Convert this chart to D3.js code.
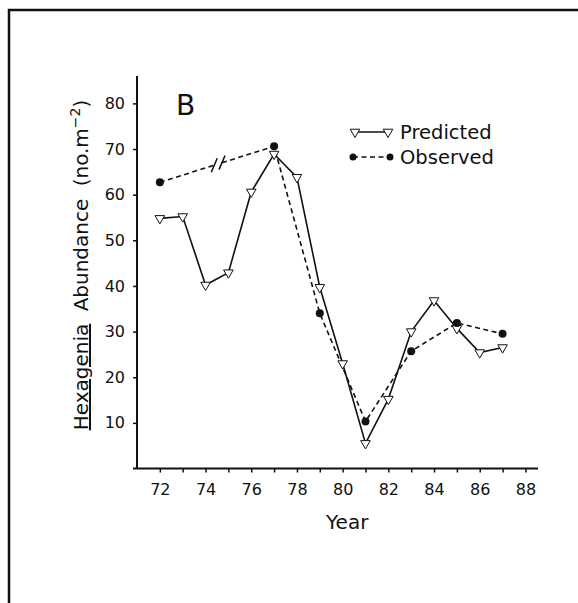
<!DOCTYPE html>
<html lang="en">
<head>
  <meta charset="UTF-8">
  <title>Hexagenia Abundance</title>
  <script src="https://d3js.org/d3.v7.min.js"></script>
  <style>
    body { margin: 0; background: #fff; }
    svg text { font-family: "DejaVu Sans", sans-serif; fill: #111; }
  </style>
</head>
<body>
  <div id="chart"></div>
  <script>
    // Data (panel B)
    const predYears = [72, 73, 74, 75, 76, 77, 78, 79, 80, 81, 82, 83, 84, 85, 86, 87];
    const predicted = [54.8, 55.2, 40.2, 42.9, 60.6, 68.9, 63.8, 39.7, 23.0, 5.5, 15.2, 30.0, 36.8, 30.7, 25.4, 26.5];
    const obsYears = [72, 77, 79, 81, 83, 85, 87];
    const observed = [62.7, 70.6, 34.0, 10.3, 25.7, 31.9, 29.5];
    const xTicks = d3.range(72, 89);
    const yTicks = [10, 20, 30, 40, 50, 60, 70, 80];
    const breakYear = 74.55;

    const W = 578, H = 603;
    const svg = d3.select("#chart").append("svg")
      .attr("width", W).attr("height", H);

    // frame around the panel
    svg.append("path")
      .attr("d", `M9,${H + 5}V10H${W + 5}`)
      .attr("fill", "none").attr("stroke", "#111").attr("stroke-width", 2.5);

    const x = d3.scaleLinear().domain([71, 88.55]).range([137, 538]);
    const y = d3.scaleLinear().domain([0, 86]).range([468.5, 76]);

    // axes
    const xAxis = d3.axisBottom(x).tickValues(xTicks).tickSize(4).tickPadding(11)
      .tickFormat(d => d % 2 === 0 ? d : "");
    const gx = svg.append("g").attr("transform", `translate(0,${y(0)})`).call(xAxis);
    gx.select(".domain").remove();
    gx.selectAll("line").attr("stroke", "#111").attr("stroke-width", 1.5);
    gx.selectAll("text").style("font-size", "16px");

    const yAxis = d3.axisLeft(y).tickValues(yTicks).tickSize(4).tickPadding(8);
    const gy = svg.append("g").attr("transform", `translate(${x(71)},0)`).call(yAxis);
    gy.select(".domain").remove();
    gy.selectAll("line").attr("stroke", "#111").attr("stroke-width", 1.5);
    gy.selectAll("text").style("font-size", "16px");

    svg.append("line")
      .attr("x1", 133).attr("x2", x.range()[1])
      .attr("y1", y(0)).attr("y2", y(0))
      .attr("stroke", "#111").attr("stroke-width", 2);
    svg.append("line")
      .attr("x1", x(71)).attr("x2", x(71))
      .attr("y1", y.range()[1]).attr("y2", y(0))
      .attr("stroke", "#111").attr("stroke-width", 2);

    // axis titles
    svg.append("text")
      .attr("x", x(80.2)).attr("y", 529)
      .attr("text-anchor", "middle")
      .style("font-size", "20px")
      .text("Year");

    const yl = svg.append("text")
      .attr("transform", "translate(88,265) rotate(-90)")
      .attr("text-anchor", "middle")
      .style("font-size", "20px")
      .attr("word-spacing", "6px");
    yl.append("tspan").attr("text-decoration", "underline").text("Hexagenia");
    yl.append("tspan").text(" Abundance (no.m");
    yl.append("tspan").attr("dy", -8).style("font-size", "14px").text("−2");
    yl.append("tspan").attr("dy", 8).text(")");

    svg.append("text")
      .attr("x", 176).attr("y", 115)
      .style("font-size", "28px")
      .text("B");

    // lines
    const line = d3.line().x(d => x(d[0])).y(d => y(d[1]));
    const predPts = predYears.map((d, i) => [d, predicted[i]]);
    const obsPts = obsYears.map((d, i) => [d, observed[i]]);

    // observed dashed line, broken between 72 and 77
    const lerp = t => observed[0] + (observed[1] - observed[0]) * (t - obsYears[0]) / (obsYears[1] - obsYears[0]);
    const gap = 0.17;
    const by = lerp(breakYear);
    const dashed = { fill: "none", stroke: "#111", "stroke-width": 1.6, "stroke-dasharray": "5,3.5" };
    const segs = [[obsPts[0], [breakYear - gap, lerp(breakYear - gap)]],
                  [[breakYear + gap, lerp(breakYear + gap)]].concat(obsPts.slice(1))];
    segs.forEach(s => {
      const p = svg.append("path").attr("d", line(s));
      Object.entries(dashed).forEach(([k, v]) => p.attr(k, v));
    });
    [-gap, gap].forEach(o => {
      const cx = x(breakYear + o), cy = y(by + (o > 0 ? 0.3 : -0.3));
      svg.append("line")
        .attr("x1", cx - 3).attr("y1", cy + 7)
        .attr("x2", cx + 3).attr("y2", cy - 7)
        .attr("stroke", "#111").attr("stroke-width", 1.5);
    });

    svg.append("path").attr("d", line(predPts))
      .attr("fill", "none").attr("stroke", "#111").attr("stroke-width", 1.6);

    // markers
    const tri = d3.symbol().type(d3.symbolTriangle).size(40);
    svg.append("g").selectAll("path").data(predPts).join("path")
      .attr("d", tri)
      .attr("transform", d => `translate(${x(d[0])},${y(d[1])}) rotate(180)`)
      .attr("fill", "#fff").attr("stroke", "#111").attr("stroke-width", 1);

    svg.append("g").selectAll("circle").data(obsPts).join("circle")
      .attr("cx", d => x(d[0])).attr("cy", d => y(d[1]))
      .attr("r", 4).attr("fill", "#111");

    // legend
    const lg = svg.append("g");
    lg.append("line").attr("x1", 355).attr("x2", 388).attr("y1", 132).attr("y2", 132)
      .attr("stroke", "#111").attr("stroke-width", 1.6);
    [355, 388].forEach(cx => lg.append("path").attr("d", tri)
      .attr("transform", `translate(${cx},132) rotate(180)`)
      .attr("fill", "#fff").attr("stroke", "#111").attr("stroke-width", 1));
    lg.append("text").attr("x", 400).attr("y", 139).style("font-size", "19.5px").text("Predicted");

    const ol = lg.append("line").attr("x1", 353).attr("x2", 390).attr("y1", 157).attr("y2", 157);
    Object.entries(dashed).forEach(([k, v]) => ol.attr(k, v));
    [353, 390].forEach(cx => lg.append("circle").attr("cx", cx).attr("cy", 157).attr("r", 3.5).attr("fill", "#111"));
    lg.append("text").attr("x", 400).attr("y", 164).style("font-size", "19.5px").text("Observed");
  </script>
</body>
</html>
